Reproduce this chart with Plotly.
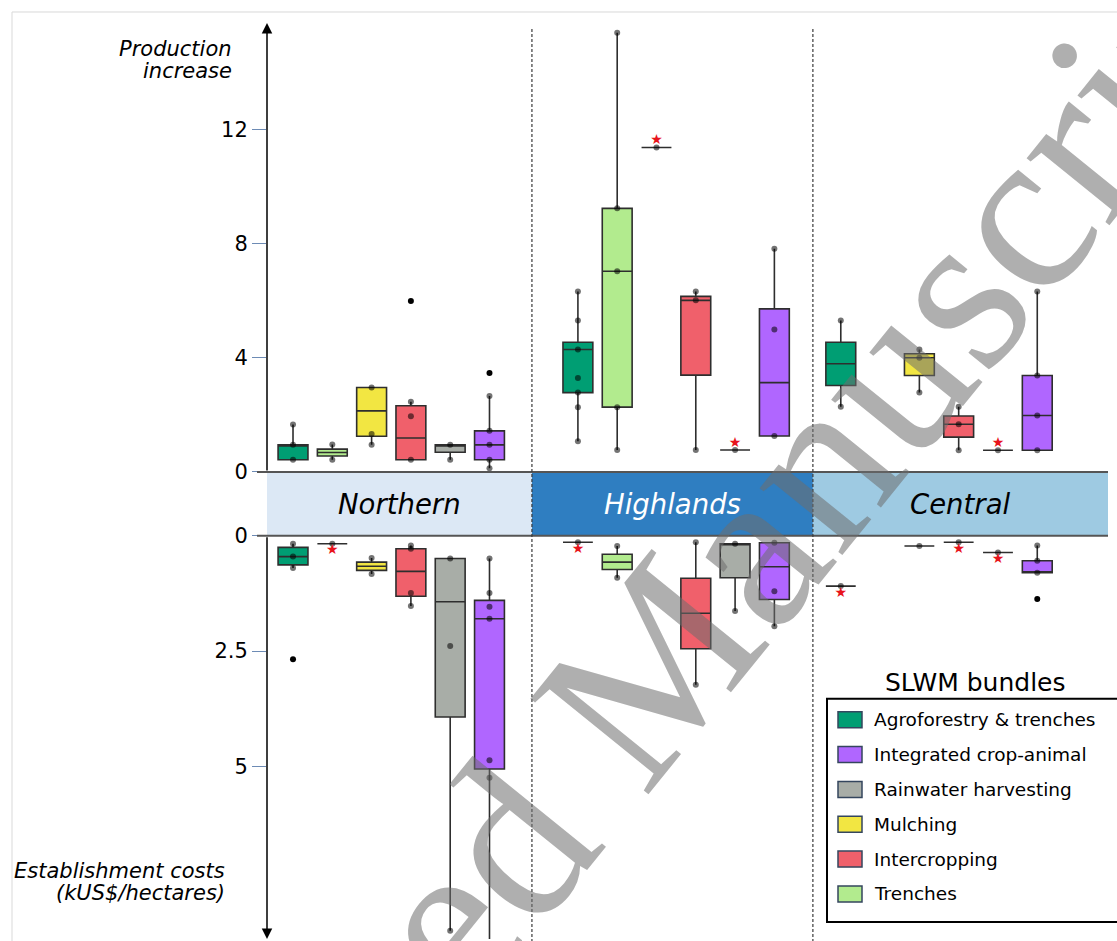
import plotly.graph_objects as go

# ---------------- data ----------------
regions = ["Northern", "Highlands", "Central"]
bundles = ["Agroforestry & trenches", "Trenches", "Mulching", "Intercropping",
           "Rainwater harvesting", "Integrated crop-animal"]
legend_order = ["Agroforestry & trenches", "Integrated crop-animal", "Rainwater harvesting",
                "Mulching", "Intercropping", "Trenches"]

# Production increase (rows = regions, cols = bundles)
prod_lo = [[0.43, 0.43, 0.95, 0.43, 0.43, 0.13],
           [1.08, 0.77, 11.36, 0.77, 0.77, 1.26],
           [2.28, None, 2.78, 0.76, 0.76, 0.76]]
prod_q1 = [[0.43, 0.56, 1.25, 0.43, 0.69, 0.43],
           [2.78, 2.27, 11.36, 3.39, 0.77, 1.26],
           [3.03, None, 3.38, 1.22, 0.76, 0.76]]
prod_med = [[0.95, 0.68, 2.14, 1.19, 0.95, 0.95],
            [4.29, 7.03, 11.36, 6.01, 0.77, 3.13],
            [3.79, None, 4.00, 1.67, 0.76, 1.98]]
prod_q3 = [[0.95, 0.80, 2.96, 2.32, 0.95, 1.44],
           [4.54, 9.23, 11.36, 6.15, 0.77, 5.71],
           [4.54, None, 4.14, 1.96, 0.76, 3.38]]
prod_hi = [[1.66, 0.96, 2.96, 2.46, 0.95, 2.66],
           [6.32, 15.38, 11.36, 6.32, 0.77, 7.82],
           [5.30, None, 4.29, 2.28, 0.76, 6.32]]
prod_points = [
    [[0.43, 0.95, 1.66], [0.43, 0.96], [0.95, 1.33, 2.96], [0.43, 1.95, 2.46], [0.43, 0.95],
     [0.13, 0.43, 0.95, 1.44, 2.66]],
    [[1.08, 2.27, 2.78, 3.29, 4.29, 5.30, 6.32], [0.77, 2.27, 7.03, 9.23, 15.38], [11.36],
     [0.77, 6.01, 6.32], [0.77], [1.26, 4.99, 7.82]],
    [[2.28, 5.30], [], [2.78, 4.00, 4.29], [0.76, 1.67, 2.28], [0.76], [0.76, 1.98, 3.38, 6.32]],
]
prod_outliers = [[[], [], [], [5.99], [], [3.47]],
                 [[], [], [], [], [], []],
                 [[], [], [], [], [], []]]
prod_star = [[0, 0, 0, 0, 0, 0],
             [0, 0, 1, 0, 1, 0],
             [0, 0, 0, 0, 1, 0]]

# Establishment costs (kUS$/ha)
cost_lo = [[0.17, 0.17, 0.48, 0.21, 0.49, 0.49],
           [0.14, 0.22, None, 0.14, 0.17, 0.15],
           [1.09, None, 0.22, 0.14, 0.36, 0.21]]
cost_q1 = [[0.25, 0.17, 0.57, 0.28, 0.49, 1.40],
           [0.14, 0.40, None, 0.92, 0.17, 0.15],
           [1.09, None, 0.22, 0.14, 0.36, 0.54]]
cost_med = [[0.45, 0.17, 0.66, 0.77, 1.43, 1.80],
            [0.14, 0.57, None, 1.68, 0.17, 0.67],
            [1.09, None, 0.22, 0.14, 0.36, 0.80]]
cost_q3 = [[0.63, 0.17, 0.75, 1.31, 3.93, 5.06],
           [0.14, 0.73, None, 2.45, 0.91, 1.38],
           [1.09, None, 0.22, 0.14, 0.36, 0.80]]
cost_hi = [[0.70, 0.17, 0.83, 1.52, 8.57, 9.30],
           [0.14, 0.91, None, 3.23, 1.63, 1.96],
           [1.09, None, 0.22, 0.14, 0.36, 0.80]]
cost_points = [
    [[0.17, 0.45, 0.70], [0.17], [0.48, 0.83], [0.21, 0.28, 1.24, 1.52], [0.49, 2.39, 8.57],
     [0.49, 1.24, 1.54, 1.80, 4.87, 5.25]],
    [[0.14], [0.22, 0.91], [], [0.14, 3.23], [0.17, 1.63], [0.15, 1.20, 1.96]],
    [[1.09], [], [0.22], [0.14], [0.36], [0.21, 0.54, 0.80]],
]
cost_outliers = [[[2.68], [], [], [], [], []],
                 [[], [], [], [], [], []],
                 [[], [], [], [], [], [1.37]]]
cost_star = [[0, 1, 0, 0, 0, 0],
             [1, 0, 0, 0, 0, 0],
             [1, 0, 0, 1, 1, 0]]

prod_ticks = [0, 4, 8, 12]
cost_ticks = [0, 2.5, 5]
cost_ticktext = ["0", "2.5", "5"]

# ---------------- styling / layout constants ----------------
colors = {"Agroforestry & trenches": "#009E73", "Trenches": "#B2EB8E", "Mulching": "#F2E642",
          "Intercropping": "#F0606B", "Rainwater harvesting": "#A8ADA7",
          "Integrated crop-animal": "#B066FF"}
band_colors = ["#DCE8F5", "#2F7EC1", "#9ECAE2"]
band_text_colors = ["black", "white", "black"]
region_offset = [0.0, 7.25, 13.94]
region_bounds = [-0.662, 6.08, 13.23, 20.74]
FONT = "DejaVu Sans, Arial, sans-serif"

FIG_W = 1117
EXTRA_H = 13          # compensates the height plotly trims in this page
FIG_H = 941 + EXTRA_H
L, R_PX, T, B_PX = 267, 1108, 23, 938
PLOT_BOTTOM_MARGIN = 941 - B_PX


def px_x(px):
    return (px - L) / (R_PX - L)


def px_y(py):
    return (B_PX - py) / (B_PX - T)


band_top, band_bot = 471.5, 535.3
PROD_MAX = 15.72
COST_MAX = 8.75

fig = go.Figure()


def add_panel(lo, q1, med, q3, hi, pts, outl, star, yref, top):
    for b, name in enumerate(bundles):
        xs, a1, a2, a3, a4, a5 = [], [], [], [], [], []
        px_, py_, ox, oy, sx, sy = [], [], [], [], [], []
        for r in range(len(regions)):
            if med[r][b] is None:
                continue
            xpos = region_offset[r] + b
            xs.append(xpos)
            a1.append(lo[r][b]); a2.append(q1[r][b]); a3.append(med[r][b])
            a4.append(q3[r][b]); a5.append(hi[r][b])
            for v in pts[r][b]:
                px_.append(xpos); py_.append(v)
            for v in outl[r][b]:
                ox.append(xpos); oy.append(v)
            if star[r][b]:
                sx.append(xpos); sy.append(med[r][b])
        if xs:
            fig.add_trace(go.Box(x=xs, lowerfence=a1, q1=a2, median=a3, q3=a4, upperfence=a5,
                                 width=0.76, whiskerwidth=0, fillcolor=colors[name],
                                 line=dict(color="#2e2e2e", width=1.6), boxpoints=False,
                                 yaxis=yref, showlegend=False, hoverinfo="skip", name=name))
        if px_:
            fig.add_trace(go.Scatter(x=px_, y=py_, mode="markers", yaxis=yref, showlegend=False,
                                     marker=dict(size=6, color="rgba(0,0,0,0.55)"),
                                     hoverinfo="skip"))
        if ox:
            fig.add_trace(go.Scatter(x=ox, y=oy, mode="markers", yaxis=yref, showlegend=False,
                                     marker=dict(size=6, color="black"), hoverinfo="skip"))
        if sx:
            fig.add_trace(go.Scatter(x=sx, y=sy, mode="text", text=["★"] * len(sx),
                                     textposition="top center" if top else "bottom center",
                                     textfont=dict(size=14, color="#E8141C", family=FONT),
                                     yaxis=yref, showlegend=False, hoverinfo="skip"))


add_panel(prod_lo, prod_q1, prod_med, prod_q3, prod_hi, prod_points, prod_outliers, prod_star, "y", True)
add_panel(cost_lo, cost_q1, cost_med, cost_q3, cost_hi, cost_points, cost_outliers, cost_star, "y2", False)

shapes = []
annotations = []


def note(x, y, text, size, color="black", xanchor="center", xref="paper", family=FONT, **kw):
    annotations.append(dict(x=x, y=y, xref=xref, yref="paper", text=text, showarrow=False,
                            xanchor=xanchor, yanchor="middle",
                            font=dict(size=size, color=color, family=family), **kw))


# page frame
shapes.append(dict(type="line", xref="paper", yref="paper", x0=px_x(12), x1=px_x(1117),
                   y0=px_y(12), y1=px_y(12), line=dict(color="#d9d9d9", width=1)))
shapes.append(dict(type="line", xref="paper", yref="paper", x0=px_x(12), x1=px_x(12),
                   y0=px_y(12), y1=px_y(941), line=dict(color="#d9d9d9", width=1)))

# region band
for i, reg in enumerate(regions):
    shapes.append(dict(type="rect", xref="x", yref="paper", x0=region_bounds[i], x1=region_bounds[i + 1],
                       y0=px_y(band_bot), y1=px_y(band_top), fillcolor=band_colors[i],
                       line=dict(width=0), layer="below"))
    note((region_bounds[i] + region_bounds[i + 1]) / 2, px_y((band_top + band_bot) / 2),
         "<i>%s</i>" % reg, 27.5, color=band_text_colors[i], xref="x")
for yy in (band_top, band_bot):
    shapes.append(dict(type="line", xref="paper", yref="paper", x0=px_x(257), x1=1,
                       y0=px_y(yy), y1=px_y(yy), line=dict(color="#555555", width=2)))

# dashed separators
for xv in region_bounds[1:3]:
    shapes.append(dict(type="line", xref="x", yref="paper", x0=xv, x1=xv, y0=px_y(941), y1=px_y(27),
                       line=dict(color="#3a3a3a", width=1.2, dash="3px,2px")))

# axis arrows
annotations.append(dict(x=region_bounds[0], y=PROD_MAX, xref="x", yref="y", ax=region_bounds[0], ay=0,
                        axref="x", ayref="y", showarrow=True, arrowhead=2, arrowsize=1.4,
                        arrowwidth=1.5, arrowcolor="black", text=""))
annotations.append(dict(x=region_bounds[0], y=COST_MAX, xref="x", yref="y2", ax=region_bounds[0], ay=0,
                        axref="x", ayref="y2", showarrow=True, arrowhead=2, arrowsize=1.4,
                        arrowwidth=1.5, arrowcolor="black", text=""))

# axis titles
for txt, yy in (("Production", 49), ("increase", 71)):
    note(px_x(234), px_y(yy), "<i>%s</i>" % txt, 21, xanchor="right")
for txt, yy in (("Establishment costs", 870), ("(kUS$/hectares)", 892)):
    note(px_x(227), px_y(yy), "<i>%s</i>" % txt, 21, xanchor="right")

# legend (manual)
note(px_x(975), px_y(682), "SLWM bundles", 25)
shapes.append(dict(type="rect", xref="paper", yref="paper", x0=px_x(827), x1=px_x(1125),
                   y0=px_y(921), y1=px_y(698), line=dict(color="black", width=2), fillcolor="white"))
for i, name in enumerate(legend_order):
    yc = 719 + i * 34.8
    shapes.append(dict(type="rect", xref="paper", yref="paper", x0=px_x(838), x1=px_x(862),
                       y0=px_y(yc + 8), y1=px_y(yc - 8), fillcolor=colors[name],
                       line=dict(color="#34465e", width=1.5)))
    note(px_x(872), px_y(yc), name, 18.5, xanchor="left")

# watermark
note(px_x(622), px_y(702), "Accepted Manuscript", 232, color="rgba(110,110,110,0.55)",
     family="Liberation Serif, Times New Roman, serif", textangle=-51)

fig.update_layout(
    width=FIG_W, height=FIG_H,
    margin=dict(l=L, r=FIG_W - R_PX, t=T, b=PLOT_BOTTOM_MARGIN),
    paper_bgcolor="white", plot_bgcolor="rgba(0,0,0,0)",
    boxmode="overlay", showlegend=False,
    xaxis=dict(range=[region_bounds[0], region_bounds[3]], visible=False, fixedrange=True),
    yaxis=dict(domain=[px_y(band_top), 1], range=[0, PROD_MAX], tickvals=prod_ticks,
               ticks="outside", ticklen=14, tickcolor="#6d8bb5", tickwidth=1,
               showgrid=False, zeroline=False, showline=False,
               tickfont=dict(size=21, color="black", family=FONT)),
    yaxis2=dict(domain=[0, px_y(band_bot)], range=[COST_MAX, 0], tickvals=cost_ticks,
                ticktext=cost_ticktext, ticks="outside", ticklen=14, tickcolor="#6d8bb5", tickwidth=1,
                showgrid=False, zeroline=False, showline=False, anchor="x",
                tickfont=dict(size=21, color="black", family=FONT)),
    shapes=shapes, annotations=annotations,
)

fig.write_html("out.html", config={"responsive": False, "displayModeBar": False},
               post_script="document.body.style.margin='0px';document.body.style.overflow='hidden';")
